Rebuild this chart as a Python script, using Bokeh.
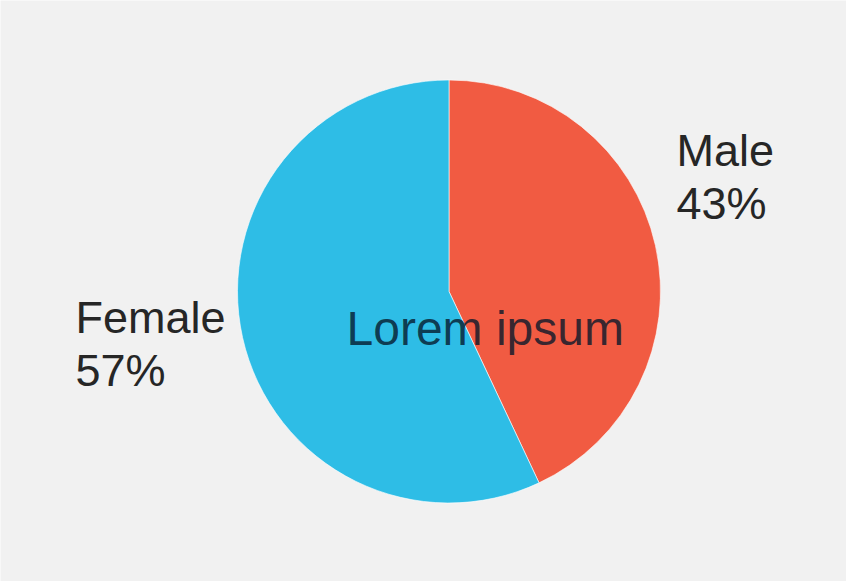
import math
from bokeh.plotting import figure
from bokeh.models import Range1d, ColumnDataSource
from bokeh.core.properties import value
from bokeh.embed import file_html
from bokeh.resources import INLINE

# ---- data ----
categories = ["Male", "Female"]
shares = [43, 57]
colors = ["#f15b42", "#2ebde6"]
center_text = "Lorem ipsum"

W, H = 846, 581
BG = "#f1f1f1"

p = figure(width=W, height=H, output_backend="svg", toolbar_location=None,
           x_range=Range1d(0, W), y_range=Range1d(0, H), min_border=0)
p.axis.visible = False
p.grid.visible = False
p.outline_line_color = None
p.background_fill_color = BG
p.border_fill_color = BG

cx, cy, r = 448.5, H - 291, 211.5

total = float(sum(shares))
starts, ends = [], []
a = math.pi / 2
for v in shares:
    starts.append(a)
    a -= 2 * math.pi * v / total
    ends.append(a)

src = ColumnDataSource(dict(cat=categories, share=shares, color=colors,
                            start=starts, end=ends))
p.wedge(x=cx, y=cy, radius=r, start_angle="start", end_angle="end",
        direction="clock", fill_color="color", line_color="white",
        line_width=1, line_alpha=0.6, source=src)

# label positions (layout) in pixel coordinates: (left x, baseline of name, baseline of pct)
label_pos = {"Male": (676, 150, 203), "Female": (75, 317, 370)}
xs, ys, texts = [], [], []
for c, v in zip(categories, shares):
    lx, b1, b2 = label_pos[c]
    xs += [lx, lx]
    ys += [H - b1, H - b2]
    texts += [c, f"{v}%"]

p.text(x=xs, y=ys, text=texts, text_font=value("Liberation Sans"),
       text_font_size="45px", text_color="#262626", text_baseline="alphabetic",
       text_align="left")

p.text(x=[346], y=[H - 328], text=[center_text], text_font=value("Liberation Sans"),
       text_font_size="48px", text_color="#06182a", text_alpha=0.8,
       text_baseline="alphabetic", text_align="left")

open("out.html", "w").write(file_html(p, INLINE))
